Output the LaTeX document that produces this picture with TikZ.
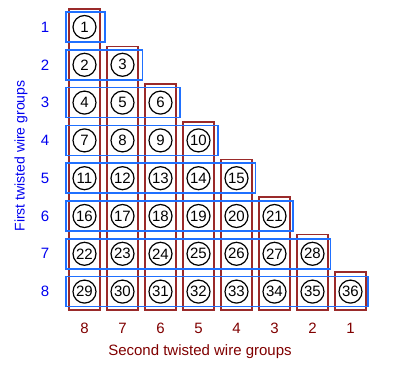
\documentclass[tikz,border=0pt]{standalone}
\usepackage{fontspec}
\setmainfont{Liberation Sans}
\usetikzlibrary{positioning}
\definecolor{rowC}{HTML}{0000F0}
\definecolor{colC}{HTML}{800000}
\definecolor{rowBoxC}{HTML}{1F70FF}
\definecolor{colBoxC}{HTML}{9A2A2A}

\begin{document}
\begin{tikzpicture}[x=1pt,y=-1pt,font=\fontsize{15}{17}\selectfont,
  colbox/.style={draw=colBoxC,line width=1.6pt},
  rowbox/.style={draw=rowBoxC,line width=1.6pt},
  pair/.style={circle,draw=black,line width=1.2pt,minimum size=23pt,inner sep=0pt}]
  \useasboundingbox (0,0) rectangle (400,372);

  % columns: second twisted wire groups
  \foreach \j in {1,...,8}{
    \pgfmathsetmacro{\xl}{69+38*(\j-1)}
    \pgfmathsetmacro{\yt}{9+37.6*(\j-1)}
    \draw[colbox] (\xl,\yt) rectangle ({\xl+31},310);
    \pgfmathtruncatemacro{\lab}{9-\j}
    \node[colC] (c\j) at ({\xl+15.5},328) {\lab};
  }

  % rows: first twisted wire groups
  \foreach \i in {1,...,8}{
    \pgfmathsetmacro{\yt}{12+37.8*(\i-1)}
    \draw[rowbox] (66,\yt) rectangle ({105+37.6*(\i-1)},{\yt+30});
    \node[rowC] (r\i) at (45,{\yt+15}) {\i};
  }

  % numbered pairs
  \foreach \i in {1,...,8}{
    \foreach \j in {1,...,\i}{
      \pgfmathtruncatemacro{\k}{\i*(\i-1)/2+\j}
      \node[pair] (p\k) at ({84.5+38*(\j-1)},{27+37.8*(\i-1)}) {\k};
    }}

  % axis titles
  \node[rowC,rotate=90,font=\fontsize{14}{16}\selectfont] (rowtitle) at (21,156) {First twisted wire groups};
  \node[colC] (coltitle) at (200,352) {Second twisted wire groups};
\end{tikzpicture}
\end{document}
